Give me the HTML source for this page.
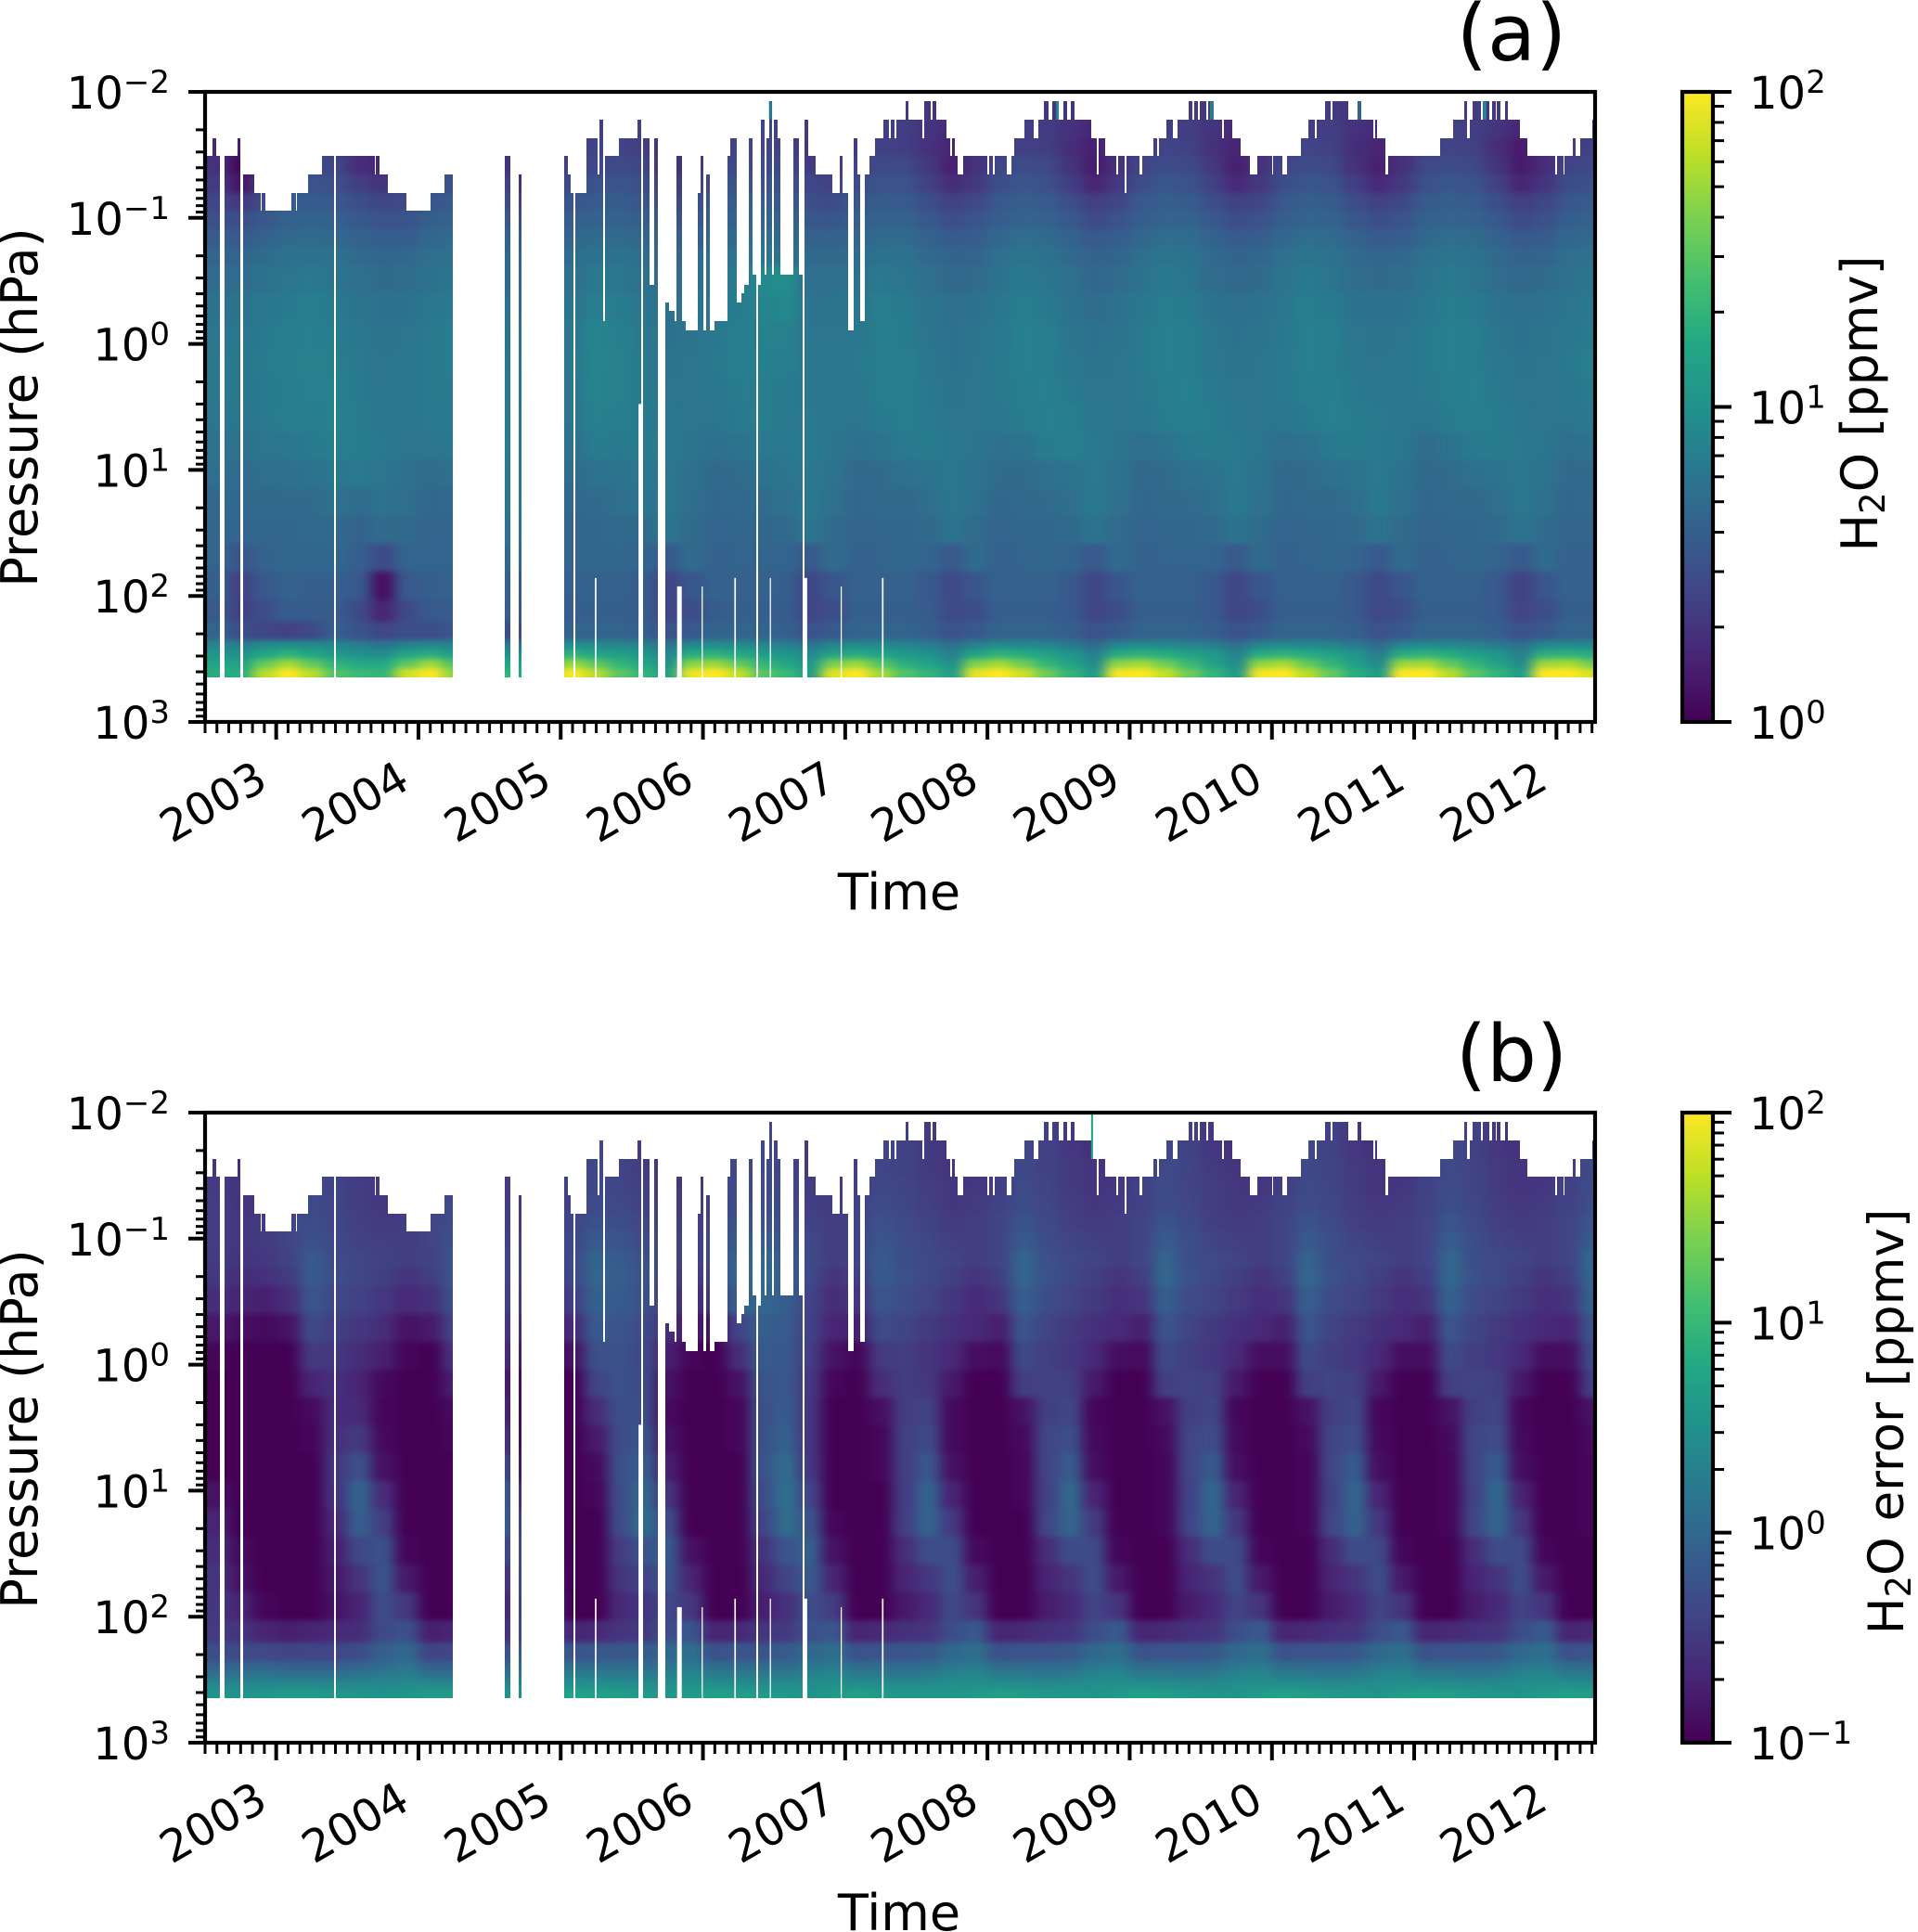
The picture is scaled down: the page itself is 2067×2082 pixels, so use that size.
<!DOCTYPE html>
<html>
<head>
<meta charset="utf-8">
<title>H2O and H2O error time-pressure heatmaps</title>
<style>
html,body{margin:0;padding:0;background:#fff;width:2067px;height:2082px;overflow:hidden}
svg{display:block}
text{font-family:"DejaVu Sans","Liberation Sans",sans-serif;fill:#000}
</style>
</head>
<body>
<svg id="figure" xmlns="http://www.w3.org/2000/svg" width="2067" height="2082" viewBox="0 0 2067 2082">
<rect width="2067" height="2082" fill="#fff"/>
<defs id="defs">
<filter id="smoothA" filterUnits="userSpaceOnUse" x="150" y="50" width="1650" height="760" color-interpolation-filters="sRGB"><feGaussianBlur stdDeviation="7 3"/></filter>
<filter id="smoothB" filterUnits="userSpaceOnUse" x="150" y="1150" width="1650" height="760" color-interpolation-filters="sRGB"><feGaussianBlur stdDeviation="7 3"/></filter>
</defs>
<text x="1629" y="65" font-size="85" text-anchor="middle">(a)</text>
<text x="1629" y="1165" font-size="85" text-anchor="middle">(b)</text>
<text transform="rotate(-90 40 439)" x="40" y="439" font-size="54" text-anchor="middle">Pressure (hPa)</text>
<text transform="rotate(-90 40 1540)" x="40" y="1540" font-size="54" text-anchor="middle">Pressure (hPa)</text>
<text x="969" y="980" font-size="54" text-anchor="middle">Time</text>
<text x="969" y="2080" font-size="54" text-anchor="middle">Time</text>
<text transform="rotate(-90 2023 435)" x="2023" y="435" font-size="54" text-anchor="middle">H<tspan font-size="37" dy="8">2</tspan><tspan dy="-8">O [ppmv]</tspan></text>
<text transform="rotate(-90 2051 1532)" x="2051" y="1532" font-size="53" text-anchor="middle">H<tspan font-size="37" dy="8">2</tspan><tspan dy="-8">O error [ppmv]</tspan></text>
</svg>
<script>
// ---------- shared axis data ----------
const yearTicks = [2003,2004,2005,2006,2007,2008,2009,2010,2011,2012];
const pressureDecades = [-2,-1,0,1,2,3];
const minorMultipliers = [2,3,4,5,6,7,8,9];
const colorbarTicksA = [0,1,2];
const colorbarTicksB = [-1,0,1,2];
const viridisStops = ['#440154','#482475','#414487','#355f8d','#2a788e','#21918c','#22a884','#44bf70','#7ad151','#bddf26','#fde725'];

// pressure edges (hPa) of the heatmap rows, top to bottom
const rowEdgesHpa = [0.0119,0.0166,0.0233,0.0322,0.0452,0.0635,0.0877,0.123,0.170,0.238,0.396,0.659,1.10,1.82,3.03,5.04,8.38,13.9,23.2,38.5,64.1,107,160,225,267,316,374,443];
// possible upper limits of the data coverage (hPa)
const topLevelsHpa = [0.0119,0.0166,0.0233,0.0322,0.0452,0.0635,0.0877,0.283,0.338,0.396,0.468,0.547,0.659,0.776];
const coverageBottomHpa = 443;
// coverage runs: [end day since 2002-07-01, index into topLevelsHpa, -1 = no data]
const coverageRuns = [[19,3],[28,2],[37,3],[49,-1],[83,3],[91,2],[97,-1],[126,4],[142,5],[145,6],[154,5],[222,6],[233,5],[236,6],[264,5],[301,4],[330,3],[335,-1],[436,3],[439,4],[448,3],[469,4],[517,5],[580,6],[615,5],[636,4],[769,-1],[785,3],[805,-1],[812,4],[923,-1],[932,3],[939,4],[947,5],[951,-1],[979,5],[1008,2],[1013,4],[1022,1],[1026,12],[1063,3],[1111,2],[1121,1],[1125,-1],[1141,2],[1152,8],[1163,2],[1182,-1],[1191,10],[1205,11],[1210,12],[1225,3],[1233,12],[1264,13],[1272,5],[1280,3],[1287,13],[1296,4],[1309,13],[1342,12],[1349,3],[1365,2],[1376,10],[1384,9],[1397,8],[1406,2],[1415,7],[1420,-1],[1427,8],[1436,1],[1441,7],[1448,2],[1456,0],[1461,7],[1470,1],[1477,2],[1510,7],[1526,2],[1534,7],[1539,-1],[1549,1],[1568,3],[1610,4],[1630,5],[1638,3],[1651,5],[1665,13],[1675,2],[1681,4],[1693,12],[1707,4],[1721,3],[1741,2],[1757,1],[1761,2],[1770,1],[1775,2],[1798,1],[1807,0],[1842,1],[1847,2],[1862,0],[1867,1],[1877,0],[1904,1],[1913,2],[1917,3],[1926,2],[1933,3],[1946,4],[2009,3],[2013,4],[2023,3],[2027,4],[2059,3],[2070,4],[2078,3],[2105,2],[2128,1],[2140,2],[2153,1],[2165,0],[2176,1],[2192,0],[2204,1],[2213,0],[2224,1],[2233,0],[2275,1],[2290,2],[2295,4],[2311,2],[2339,3],[2344,4],[2360,3],[2365,5],[2400,3],[2406,4],[2435,3],[2444,2],[2449,3],[2469,2],[2485,1],[2497,2],[2525,1],[2534,0],[2541,1],[2549,0],[2554,1],[2571,0],[2576,1],[2591,0],[2612,1],[2616,2],[2638,1],[2659,2],[2682,3],[2702,4],[2739,3],[2743,4],[2766,3],[2777,4],[2813,3],[2834,2],[2850,1],[2854,2],[2875,1],[2891,0],[2896,1],[2935,0],[2960,1],[2968,0],[3000,1],[3004,2],[3010,1],[3031,2],[3038,4],[3171,3],[3205,2],[3233,1],[3241,0],[3248,2],[3254,1],[3276,0],[3281,1],[3297,0],[3304,1],[3313,0],[3317,1],[3327,0],[3338,1],[3346,0],[3375,1],[3395,2],[3467,3],[3472,4],[3487,3],[3491,4],[3512,3],[3520,2],[3532,3],[3563,2],[3569,1]];
// missing lower parts: [start day, end day, upper pressure of the gap in hPa]
const lowerGaps = [[1001,1005,72],[1212,1224,84],[1275,1278,84],[1359,1363,72],[1450,1453,72],[1539,1546,72],[1632,1635,84],[1738,1742,72],[1113,1121,3]];
// isolated bright columns: [start day, end day, top hPa, bottom hPa, value]
const spikesA = [[1448,1456,0.0119,0.0166,60],[2185,2192,0.0119,0.0166,80],[2580,2590,0.0119,0.0166,70],[2960,2968,0.0119,0.0166,50],[3281,3290,0.0119,0.0166,80]];
const spikesB = [[2275,2280,0.01,0.0233,600]];

// ---------- panel (a): H2O, tenths of ppmv; columns are two-month bins from Jul 2002, rows follow rowEdgesHpa ----------
const h2oTenths = [
[20,18,20, 20,21,22,20,18,20, 20,21,22,20,18,20, 20,22,23,22,20,20, 21,22,23,22,21,21, 21,22,22,20,19,20, 21,22,21,20,18,20, 20,22,22,20,18,20, 20,21,22,20,18,20, 21,22,22,21,19,20, 20,22],
[19,16,20, 20,22,22,19,16,19, 20,22,23,20,17,19, 20,23,24,24,20,20, 21,23,25,24,22,20, 20,23,23,20,17,19, 20,23,22,19,16,19, 20,23,23,20,17,19, 21,23,23,19,17,19, 22,24,23,20,16,19, 20,22],
[17,14,19, 22,23,22,18,15,18, 20,23,23,19,15,19, 22,25,25,23,19,20, 23,25,26,24,20,21, 22,24,23,19,16,19, 22,24,23,18,15,19, 22,25,24,19,16,19, 23,25,24,18,16,19, 23,25,24,18,14,18, 22,24],
[19,11,20, 26,28,26,18,16,20, 24,28,27,21,15,19, 24,27,28,26,18,20, 25,28,29,27,22,21, 25,28,27,21,15,19, 26,29,27,20,14,19, 26,29,28,21,15,19, 26,29,27,19,15,19, 27,29,27,20,14,18, 25,27],
[22,13,23, 30,32,31,23,20,23, 28,32,31,25,18,22, 29,32,33,30,22,23, 29,33,33,31,26,24, 29,32,32,24,18,21, 30,34,31,23,16,21, 30,34,32,24,17,21, 30,34,32,23,17,21, 31,34,32,24,16,20, 29,31],
[26,21,29, 36,38,36,30,26,28, 34,38,36,30,23,26, 34,38,38,34,26,28, 36,39,39,36,30,29, 34,38,37,30,24,27, 36,40,37,30,23,26, 36,40,38,30,24,26, 36,40,38,29,24,27, 37,40,38,30,23,26, 35,37],
[31,30,36, 41,43,41,36,32,33, 39,43,41,36,28,31, 39,43,43,39,32,33, 39,43,44,41,35,34, 39,42,42,36,30,33, 39,44,42,36,28,32, 39,44,43,36,29,32, 40,44,43,35,30,33, 41,44,42,36,28,31, 39,41],
[37,37,43, 48,50,48,43,39,39, 46,50,48,43,36,38, 45,50,50,46,39,39, 46,50,52,48,43,41, 45,50,50,43,37,39, 46,52,50,43,36,39, 46,52,51,43,37,39, 46,52,50,43,37,39, 47,52,50,43,36,38, 46,48],
[44,44,50, 55,57,54,48,44,46, 52,55,54,48,42,44, 51,57,57,52,44,46, 54,59,59,55,48,48, 51,57,55,48,43,44, 54,59,55,48,42,44, 52,59,57,48,43,45, 54,59,55,48,44,46, 54,59,55,48,43,44, 52,55],
[51,51,57, 60,64,59,53,50,51, 57,60,57,51,46,50, 55,64,62,55,50,51, 57,66,84,95,53,53, 55,64,60,53,48,50, 57,66,60,53,46,50, 57,66,60,51,48,50, 59,66,60,51,50,51, 59,66,60,51,48,50, 55,60],
[57,57,62, 66,70,64,59,55,57, 62,66,62,57,51,55, 60,70,68,60,55,57, 60,68,78,84,59,59, 60,70,66,59,53,55, 62,71,66,57,51,55, 62,71,66,57,53,55, 62,71,66,57,55,57, 62,71,66,57,53,55, 60,66],
[60,60,66, 70,73,68,62,59,60, 64,70,66,60,55,59, 62,78,72,62,57,59, 62,70,74,74,60,60, 62,72,68,60,55,59, 64,73,70,60,55,59, 64,73,70,60,57,59, 64,73,70,60,59,60, 66,73,70,60,57,59, 62,68],
[62,62,68, 71,75,70,64,60,62, 66,70,68,62,59,60, 64,80,73,64,59,60, 64,70,73,70,62,62, 64,71,70,62,57,60, 66,73,71,62,59,60, 66,73,71,62,59,60, 66,73,71,62,60,62, 66,73,71,62,59,60, 64,70],
[62,62,66, 71,73,73,66,60,62, 66,68,68,64,60,60, 62,78,73,64,60,60, 62,68,71,66,62,62, 62,70,71,64,59,60, 64,71,73,66,60,60, 64,71,73,64,60,60, 64,70,73,64,62,62, 64,71,73,64,60,60, 62,68],
[60,60,64, 70,71,73,68,62,62, 64,66,70,66,62,62, 60,73,70,66,62,60, 60,66,70,64,64,62, 60,66,71,66,60,60, 62,68,73,70,62,60, 62,68,73,68,62,60, 62,66,73,68,64,62, 60,68,71,68,62,60, 60,66],
[56,56,60, 62,66,70,68,64,60, 60,62,68,68,64,60, 56,68,66,68,64,58, 54,58,64,64,66,60, 54,58,66,68,62,60, 54,58,68,70,66,60, 52,58,66,68,66,60, 52,56,66,68,66,62, 50,58,66,68,64,60, 52,56],
[52,50,52, 54,56,62,64,60,54, 50,54,60,64,62,54, 50,56,58,62,62,54, 48,50,56,60,64,56, 48,50,54,58,62,56, 50,50,54,58,64,56, 48,50,54,58,64,56, 48,50,54,58,64,56, 48,50,54,58,62,56, 48,50],
[48,48,48, 50,50,54,50,56,52, 46,48,54,60,62,52, 46,50,52,58,62,52, 46,48,50,54,64,54, 46,48,48,52,62,54, 46,48,50,52,64,54, 46,48,50,52,64,54, 46,48,48,52,64,54, 46,48,48,52,62,54, 46,48],
[45,45,45, 46,47,48,42,50,48, 44,45,48,54,58,50, 44,46,48,50,60,50, 44,45,46,48,60,50, 44,45,46,48,58,50, 44,45,46,48,58,50, 44,45,46,48,58,50, 44,45,46,48,58,50, 44,45,46,48,58,50, 44,45],
[44,34,42, 46,46,46,40,28,44, 44,44,46,48,50,48, 44,46,46,44,36,50, 42,44,44,44,36,50, 42,44,46,44,36,50, 42,44,46,44,36,50, 42,44,44,44,36,50, 42,44,46,44,36,50, 42,44,46,44,36,50, 42,44],
[40,24,36, 42,40,40,36,12,36, 40,42,42,42,36,36, 42,42,42,38,26,34, 42,42,42,40,26,34, 42,42,42,36,28,34, 42,42,42,36,26,34, 42,42,42,36,26,34, 42,42,42,36,27,34, 42,42,42,36,24,34, 42,42],
[36,24,30, 38,38,38,28,16,28, 36,38,40,40,34,32, 40,40,40,38,25,30, 38,40,40,38,26,30, 40,40,40,38,28,30, 40,40,40,36,26,30, 40,40,40,36,26,30, 40,40,40,36,27,30, 40,40,40,36,25,30, 40,40],
[44,30,26, 24,28,40,32,26,30, 30,34,38,30,30,34, 44,44,44,40,32,36, 44,44,44,40,32,36, 44,44,44,40,32,36, 44,44,44,40,32,36, 44,44,44,40,32,36, 44,44,44,40,32,36, 44,44,44,40,32,36, 44,44],
[80,70,90, 95,90,80,70,60,75, 85,80,70,70,60,70, 95,90,85,75,60,85, 95,90,80,75,60,80, 90,85,80,70,55,75, 90,85,80,65,50,80, 90,85,80,70,55,80, 90,85,80,65,50,80, 90,85,80,65,55,85, 90,85],
[110,100,150, 190,150,120,100,95,150, 170,130,110,100,90,140, 190,150,130,110,80,170, 190,160,130,110,85,140, 170,140,120,100,75,150, 190,170,140,110,70,170, 190,170,140,120,75,170, 190,170,140,110,70,170, 190,170,130,110,75,180, 190,170],
[140,140,320, 520,320,190,160,160,300, 500,270,170,150,130,260, 480,300,200,150,100,420, 480,320,200,150,110,380, 480,280,180,140,100,400, 520,350,200,140,90,450, 520,350,220,140,90,450, 540,320,200,130,90,480, 520,320,200,140,90,500, 540,360],
[170,170,600, 1000,600,280,220,200,700, 1000,450,250,200,170,550, 1000,600,300,200,130,900, 1000,650,300,220,130,800, 1000,520,280,200,130,850, 1000,700,350,200,120,950, 1000,650,350,200,120,950, 1000,600,320,180,120,1000, 1000,600,300,200,130,1000, 1000,750]
];

// ---------- panel (b): H2O error, hundredths of ppmv; same grid ----------
const h2oErrorHundredths = [
[30,26,28, 32,38,36,30,26,28, 32,38,36,30,26,28, 34,40,38,32,28,28, 34,42,44,38,32,28, 32,40,38,32,28,28, 34,42,38,30,26,28, 34,44,38,30,26,28, 34,42,38,30,26,28, 34,44,38,30,26,28, 34,44],
[30,26,28, 34,40,36,30,26,28, 32,38,36,30,26,28, 34,42,38,32,28,28, 36,44,44,38,32,30, 34,40,38,32,28,28, 34,42,38,30,26,28, 36,44,38,30,26,28, 34,44,38,30,26,28, 36,44,38,30,26,28, 34,44],
[30,26,28, 34,42,38,32,28,28, 34,40,36,32,28,28, 36,44,40,34,28,28, 36,46,46,40,32,30, 34,42,38,32,28,28, 36,44,38,32,28,28, 36,46,40,32,28,28, 36,44,40,32,28,28, 36,46,40,32,28,28, 36,46],
[32,28,30, 36,44,40,34,30,30, 36,44,40,34,30,30, 38,46,42,36,30,30, 38,48,48,42,34,30, 36,44,40,34,30,30, 36,46,40,32,28,30, 38,48,40,34,30,30, 36,46,40,32,28,30, 38,48,40,32,28,30, 38,48],
[34,28,30, 38,46,40,34,30,32, 38,46,40,34,30,32, 38,48,44,38,32,32, 40,50,50,44,36,32, 38,48,42,36,30,32, 38,50,42,34,30,32, 38,50,42,34,30,32, 38,50,42,34,30,32, 38,52,42,34,30,32, 38,52],
[34,30,32, 40,50,42,36,32,34, 40,50,42,36,32,34, 42,56,50,42,34,34, 42,58,60,50,38,34, 40,54,46,38,32,34, 40,58,46,36,32,34, 40,58,46,36,32,34, 40,58,46,36,32,34, 40,60,46,36,32,34, 40,60],
[34,30,32, 40,56,44,38,36,34, 40,54,44,38,36,34, 44,70,60,48,38,34, 46,72,80,60,44,34, 40,62,50,42,36,34, 40,70,50,40,36,34, 40,72,50,40,36,34, 40,70,50,40,36,34, 40,74,50,40,36,34, 40,74],
[32,28,30, 38,70,48,42,38,34, 38,60,48,42,38,34, 46,90,70,56,40,34, 46,90,100,70,46,34, 40,70,52,44,40,34, 40,90,54,44,40,34, 40,92,52,44,40,34, 40,92,52,44,40,34, 40,96,52,44,40,34, 40,96],
[30,24,26, 32,72,50,42,36,28, 34,60,50,42,36,28, 44,96,76,60,38,28, 44,100,110,76,44,28, 36,72,56,44,36,28, 36,94,56,44,36,28, 36,98,56,44,36,28, 36,98,56,44,36,28, 36,100,56,44,36,28, 36,100],
[24,20,18, 24,60,44,38,30,22, 26,54,44,38,30,22, 36,84,70,56,32,22, 30,80,100,76,40,24, 28,62,50,40,30,22, 28,80,50,40,32,25, 28,80,48,40,32,25, 28,80,48,40,32,25, 28,84,48,40,32,25, 28,84],
[16,13,12, 14,46,36,30,24,14, 16,40,36,30,24,16, 22,70,60,48,24,16, 14,40,80,70,38,20, 18,48,40,32,26,22, 18,60,40,32,26,22, 18,60,40,32,26,22, 18,60,40,32,26,22, 18,62,40,32,26,22, 20,60],
[11,10,10, 10,32,30,24,18,11, 10,28,28,24,16,10, 14,54,56,44,18,11, 10,24,70,66,34,14, 11,32,34,28,22,13, 12,46,36,30,22,13, 12,46,36,30,22,13, 13,46,36,30,22,13, 13,46,36,30,22,13, 13,46],
[10,10,10, 10,20,26,20,12,10, 10,18,24,18,12,10, 10,40,56,46,14,10, 10,14,60,64,30,11, 10,24,34,30,16,10, 10,34,38,36,16,10, 10,36,40,36,16,10, 10,36,40,36,16,10, 10,36,40,36,16,10, 10,36],
[10,10,10, 10,12,24,22,11,10, 10,12,22,22,11,10, 10,24,52,50,12,10, 10,11,56,70,28,10, 10,13,34,38,12,10, 10,14,36,42,11,10, 10,14,36,42,11,10, 10,14,36,42,11,10, 10,14,36,42,11,10, 10,14],
[10,10,10, 10,11,26,32,12,10, 10,11,24,30,12,10, 10,16,50,60,14,10, 10,11,56,84,28,10, 10,11,36,46,12,10, 10,12,42,52,12,10, 10,12,42,50,12,10, 10,12,42,50,12,10, 10,12,42,50,12,10, 10,12],
[10,10,10, 10,10,30,56,14,10, 10,10,26,50,14,10, 10,12,54,76,18,10, 10,10,60,110,30,10, 10,11,36,64,14,10, 10,11,40,72,13,10, 10,11,42,70,13,10, 10,11,42,70,13,10, 10,11,42,70,13,10, 10,11],
[14,10,10, 10,10,28,90,24,10, 10,10,26,80,22,10, 10,11,50,100,28,10, 10,10,50,120,40,10, 10,10,34,90,20,10, 10,11,38,100,20,10, 10,11,38,100,20,10, 10,11,38,96,20,10, 10,11,38,100,20,10, 10,11],
[20,10,10, 10,10,22,80,36,10, 10,10,22,76,36,10, 10,10,48,110,50,10, 10,10,40,110,60,11, 10,10,36,86,32,10, 10,10,42,90,32,10, 10,11,40,90,30,10, 10,11,42,86,30,10, 10,11,42,90,30,10, 10,11],
[24,12,10, 10,10,18,44,56,11, 10,10,18,42,52,12, 10,10,34,60,70,14, 10,10,28,60,80,14, 10,10,24,50,50,12, 10,10,24,50,46,11, 10,10,24,50,46,11, 10,10,24,50,44,11, 10,10,24,50,46,11, 10,10],
[28,14,10, 10,10,16,28,58,16, 10,10,16,26,50,18, 10,10,28,40,60,20, 10,10,22,40,70,20, 10,10,20,30,54,18, 10,10,20,28,50,16, 10,10,20,28,50,16, 10,10,20,28,50,16, 10,10,20,28,50,16, 10,10],
[30,20,11, 10,10,14,20,50,30, 10,10,14,20,46,30, 10,10,22,28,44,30, 10,10,18,26,50,34, 10,10,16,22,44,28, 10,10,17,22,40,28, 10,10,17,22,40,28, 10,10,17,22,40,28, 10,10,17,22,40,28, 10,10],
[32,28,20, 18,20,22,24,46,56, 18,20,22,24,46,54, 20,22,28,32,50,60, 20,22,28,32,54,64, 20,22,26,28,50,66, 20,22,26,28,50,70, 20,22,26,28,50,70, 20,22,26,28,50,66, 20,22,26,28,50,70, 20,22],
[50,46,44, 40,42,42,50,80,100, 40,42,44,50,80,100, 60,64,64,70,100,120, 56,60,60,70,100,120, 56,60,62,66,100,120, 56,60,62,66,100,120, 56,60,62,66,100,120, 56,60,62,66,100,120, 56,60,62,66,100,120, 56,60],
[80,90,90, 80,80,80,90,110,140, 80,80,80,90,110,140, 120,110,110,110,140,170, 110,110,110,110,150,170, 110,110,105,110,160,170, 110,110,105,110,160,170, 110,110,105,110,160,170, 110,110,105,110,160,170, 110,110,105,110,160,170, 110,110],
[130,140,140, 130,130,130,140,170,190, 130,130,130,140,170,190, 190,180,170,170,210,240, 180,180,170,170,210,240, 170,170,160,170,220,240, 170,170,160,170,220,240, 170,170,160,170,220,240, 170,170,160,170,220,240, 170,170,160,170,220,240, 170,170],
[240,240,250, 260,250,240,240,250,270, 260,250,240,240,250,270, 320,300,290,280,300,320, 300,290,280,280,290,310, 290,280,260,270,300,300, 290,280,260,270,300,300, 300,280,260,260,300,300, 300,280,260,260,290,300, 290,280,260,270,300,300, 300,280],
[340,340,380, 420,400,380,360,330,360, 420,400,360,340,330,360, 550,500,460,420,360,420, 500,460,420,400,340,400, 480,420,380,380,360,400, 480,440,390,380,340,420, 500,450,390,370,340,440, 520,450,390,380,340,440, 500,450,390,370,340,420, 480,440]
];

// ---------- axis functions ----------
const NS = 'http://www.w3.org/2000/svg';
const svg = document.getElementById('figure');
const defs = document.getElementById('defs');
const PLOT_LEFT = 221, PLOT_RIGHT = 1719, PX_PER_YEAR = 153.3, PX_PER_DECADE = 135.8;
const DAYS_PER_YEAR = 365.25, COLUMN_DAYS = DAYS_PER_YEAR / 6;
const CBAR_LEFT = 1813, CBAR_RIGHT = 1846;

function xOfDay(day){ return PLOT_LEFT + day * PX_PER_YEAR / DAYS_PER_YEAR; }
function xOfYear(year){ return xOfDay((year - 2002.5) * DAYS_PER_YEAR); }
function yOfPressure(hpa, top){ return top + (Math.log10(hpa) + 2) * PX_PER_DECADE; }

function viridis(t){
  const n = Math.max(0, Math.min(1, t)) * (viridisStops.length - 1);
  const i = Math.min(Math.floor(n), viridisStops.length - 2), f = n - i;
  const a = viridisStops[i], b = viridisStops[i + 1];
  const c = [1, 3, 5].map(function(p){
    const u = parseInt(a.substr(p, 2), 16), v = parseInt(b.substr(p, 2), 16);
    return Math.round(u + (v - u) * f);
  });
  return 'rgb(' + c.join(',') + ')';
}
function make(tag, attrs, parent){
  const el = document.createElementNS(NS, tag);
  for (const k in attrs) el.setAttribute(k, attrs[k]);
  (parent || svg).appendChild(el);
  return el;
}
function powerLabel(parent, exponent, x, y, anchor){
  const t = make('text', {x: x, y: y, 'font-size': 48, 'text-anchor': anchor}, parent);
  t.appendChild(document.createTextNode('10'));
  const s = make('tspan', {dy: -17, 'font-size': 34}, t);
  s.textContent = String(exponent).replace('-', '\u2212');
  return t;
}

function drawPanel(id, top, grid, unitsPerPpmv, decadeMin, decadeMax, spikes, filterId, colorbarTicks){
  const bottom = top + 5 * PX_PER_DECADE;
  const colorOf = function(v){ return viridis((Math.log10(v / unitsPerPpmv) - decadeMin) / (decadeMax - decadeMin)); };

  // coverage clip built from the coverage runs; edges snapped to whole pixels so runs join without seams
  const clip = make('clipPath', {id: 'coverage-' + id}, defs);
  let start = 0;
  coverageRuns.forEach(function(run){
    if (run[1] >= 0) {
      const y0 = Math.round(yOfPressure(topLevelsHpa[run[1]], top));
      const xa = Math.round(xOfDay(start)), xb = Math.round(xOfDay(run[0]));
      make('rect', {x: xa, y: y0, width: xb - xa, height: Math.round(yOfPressure(coverageBottomHpa, top)) - y0}, clip);
    }
    start = run[0];
  });

  const clipped = make('g', {'clip-path': 'url(#coverage-' + id + ')'});
  
  
  const heat = make('g', {filter: 'url(#' + filterId + ')'}, clipped);
  
  
  grid.forEach(function(row, r){
    const y0 = yOfPressure(rowEdgesHpa[r], top), y1 = yOfPressure(rowEdgesHpa[r + 1], top);
    row.forEach(function(v, c){
      const x0 = xOfDay(c * COLUMN_DAYS), x1 = xOfDay((c + 1) * COLUMN_DAYS);
      const left = c === 0 ? x0 - 40 : x0;
      const right = c === row.length - 1 ? x1 + 40 : x1 + 0.5;
      const upper = r === 0 ? y0 - 40 : y0;
      const lower = r === grid.length - 1 ? y1 + 40 : y1 + 0.5;
      const cell = make('rect', {x: left, y: upper, width: right - left, height: lower - upper, fill: colorOf(v)}, heat);
      
      
    });
  });

  lowerGaps.forEach(function(g){
    const y0 = yOfPressure(g[2], top);
    const gap = make('rect', {x: xOfDay(g[0]), y: y0, width: xOfDay(g[1]) - xOfDay(g[0]), height: yOfPressure(coverageBottomHpa, top) - y0 + 1, fill: '#fff'});
    
    
  });
  spikes.forEach(function(s){
    const y0 = yOfPressure(s[2], top);
    const spike = make('rect', {x: xOfDay(s[0]), y: y0, width: xOfDay(s[1]) - xOfDay(s[0]), height: yOfPressure(s[3], top) - y0, fill: colorOf(s[4])});
    
    
  });

  // frame
  const frame = make('rect', {x: PLOT_LEFT, y: top, width: PLOT_RIGHT - PLOT_LEFT, height: bottom - top, fill: 'none', stroke: '#000', 'stroke-width': 4.2});
  
  

  // y axis ticks
  pressureDecades.forEach(function(d){
    const hpa = Math.pow(10, d), y = yOfPressure(hpa, top);
    const major = make('line', {x1: 203, x2: PLOT_LEFT, y1: y, y2: y, stroke: '#000', 'stroke-width': 4});
    
    
    const label = powerLabel(svg, d, 183, y + 18, 'end');
    
    
    if (d < 3) minorMultipliers.forEach(function(m){
      const ym = yOfPressure(hpa * m, top);
      const minor = make('line', {x1: 211, x2: PLOT_LEFT, y1: ym, y2: ym, stroke: '#000', 'stroke-width': 3});
      
      
    });
  });

  // x axis ticks: monthly minor ticks from Jul 2002 to Apr 2012
  for (let m = 0; m <= 117; m++) {
    const x = xOfYear(2002.5 + m / 12);
    const minor = make('line', {x1: x, x2: x, y1: bottom, y2: bottom + 12, stroke: '#000', 'stroke-width': 3});
    
    
  }
  yearTicks.forEach(function(year){
    const x = xOfYear(year);
    const major = make('line', {x1: x, x2: x, y1: bottom, y2: bottom + 19, stroke: '#000', 'stroke-width': 4});
    
    
    const ax = x - 7, ay = bottom + 70;
    const label = make('text', {x: ax, y: ay, 'font-size': 48, 'text-anchor': 'end', transform: 'rotate(-30 ' + ax + ' ' + ay + ')'});
    label.textContent = String(year);
    
    
  });

  // colorbar
  const gradient = make('linearGradient', {id: 'cbar-' + id, x1: 0, y1: 1, x2: 0, y2: 0}, defs);
  viridisStops.forEach(function(color, i){
    make('stop', {offset: i / (viridisStops.length - 1), 'stop-color': color}, gradient);
  });
  const bar = make('rect', {x: CBAR_LEFT, y: top, width: CBAR_RIGHT - CBAR_LEFT, height: bottom - top, fill: 'url(#cbar-' + id + ')', stroke: '#000', 'stroke-width': 4.2});
  
  
  const perDecade = (bottom - top) / (decadeMax - decadeMin);
  const yOfValue = function(e){ return bottom - (e - decadeMin) * perDecade; };
  colorbarTicks.forEach(function(e){
    const y = yOfValue(e);
    const major = make('line', {x1: CBAR_RIGHT, x2: 1866, y1: y, y2: y, stroke: '#000', 'stroke-width': 4});
    
    
    const label = powerLabel(svg, e, 1885, y + 18, 'start');
    
    
    if (e < decadeMax) minorMultipliers.forEach(function(m){
      const ym = yOfValue(e + Math.log10(m));
      const minor = make('line', {x1: CBAR_RIGHT, x2: 1858, y1: ym, y2: ym, stroke: '#000', 'stroke-width': 3});
      
      
    });
  });
}

drawPanel('a', 99, h2oTenths, 10, 0, 2, spikesA, 'smoothA', colorbarTicksA);
drawPanel('b', 1199, h2oErrorHundredths, 100, -1, 2, spikesB, 'smoothB', colorbarTicksB);
</script>
</body>
</html>
